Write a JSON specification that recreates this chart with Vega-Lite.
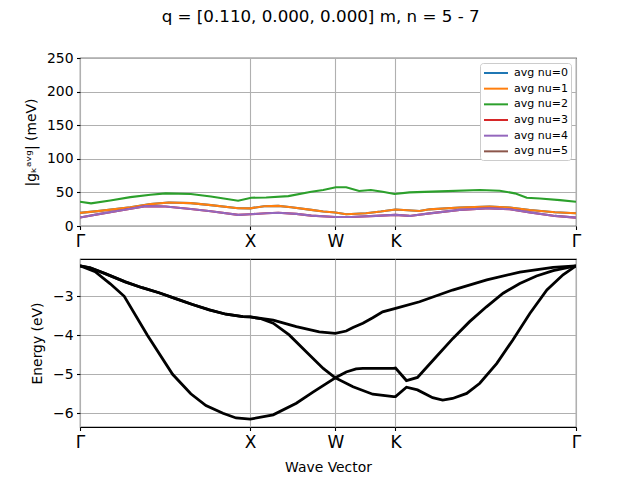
{
  "$schema": "https://vega.github.io/schema/vega-lite/v6.json",
  "title": {"text": "q = [0.110, 0.000, 0.000] m, n = 5 - 7", "fontSize": 16.7, "fontWeight": "normal", "font": "DejaVu Sans", "color": "black", "anchor": "middle", "offset": 25, "dx": 18},
  "padding": {"left": 23, "top": 8, "right": 10, "bottom": 5},
  "spacing": 8,
  "datasets": {
    "g": [
      {"s": "avg nu=0", "k": 0, "g": 19.5}, {"s": "avg nu=0", "k": 0.118, "g": 22.5}, {"s": "avg nu=0", "k": 0.296, "g": 28}, {"s": "avg nu=0", "k": 0.414, "g": 32.5}, {"s": "avg nu=0", "k": 0.521, "g": 35}, {"s": "avg nu=0", "k": 0.651, "g": 34}, {"s": "avg nu=0", "k": 0.769, "g": 31}, {"s": "avg nu=0", "k": 0.929, "g": 26.5}, {"s": "avg nu=0", "k": 1.0, "g": 26.3}, {"s": "avg nu=0", "k": 1.082, "g": 29.5}, {"s": "avg nu=0", "k": 1.165, "g": 30}, {"s": "avg nu=0", "k": 1.241, "g": 28}, {"s": "avg nu=0", "k": 1.359, "g": 24}, {"s": "avg nu=0", "k": 1.429, "g": 21.5}, {"s": "avg nu=0", "k": 1.5, "g": 20}, {"s": "avg nu=0", "k": 1.564, "g": 17.5}, {"s": "avg nu=0", "k": 1.68, "g": 19}, {"s": "avg nu=0", "k": 1.767, "g": 21.5}, {"s": "avg nu=0", "k": 1.854, "g": 24.5}, {"s": "avg nu=0", "k": 1.995, "g": 22.3}, {"s": "avg nu=0", "k": 2.054, "g": 24.8}, {"s": "avg nu=0", "k": 2.231, "g": 27.5}, {"s": "avg nu=0", "k": 2.407, "g": 29}, {"s": "avg nu=0", "k": 2.525, "g": 27.5}, {"s": "avg nu=0", "k": 2.643, "g": 23.8}, {"s": "avg nu=0", "k": 2.79, "g": 20.5}, {"s": "avg nu=0", "k": 2.9142, "g": 19},
      {"s": "avg nu=1", "k": 0, "g": 19.5}, {"s": "avg nu=1", "k": 0.118, "g": 22.5}, {"s": "avg nu=1", "k": 0.296, "g": 28}, {"s": "avg nu=1", "k": 0.414, "g": 32.5}, {"s": "avg nu=1", "k": 0.521, "g": 35}, {"s": "avg nu=1", "k": 0.651, "g": 34}, {"s": "avg nu=1", "k": 0.769, "g": 31}, {"s": "avg nu=1", "k": 0.929, "g": 26.5}, {"s": "avg nu=1", "k": 1.0, "g": 26.3}, {"s": "avg nu=1", "k": 1.082, "g": 29.5}, {"s": "avg nu=1", "k": 1.165, "g": 30}, {"s": "avg nu=1", "k": 1.241, "g": 28}, {"s": "avg nu=1", "k": 1.359, "g": 24}, {"s": "avg nu=1", "k": 1.429, "g": 21.5}, {"s": "avg nu=1", "k": 1.5, "g": 20}, {"s": "avg nu=1", "k": 1.564, "g": 17.5}, {"s": "avg nu=1", "k": 1.68, "g": 19}, {"s": "avg nu=1", "k": 1.767, "g": 21.5}, {"s": "avg nu=1", "k": 1.854, "g": 24.5}, {"s": "avg nu=1", "k": 1.995, "g": 22.3}, {"s": "avg nu=1", "k": 2.054, "g": 24.8}, {"s": "avg nu=1", "k": 2.231, "g": 27.5}, {"s": "avg nu=1", "k": 2.407, "g": 29}, {"s": "avg nu=1", "k": 2.525, "g": 27.5}, {"s": "avg nu=1", "k": 2.643, "g": 23.8}, {"s": "avg nu=1", "k": 2.79, "g": 20.5}, {"s": "avg nu=1", "k": 2.9142, "g": 19},
      {"s": "avg nu=2", "k": 0, "g": 36.2}, {"s": "avg nu=2", "k": 0.065, "g": 33.7}, {"s": "avg nu=2", "k": 0.178, "g": 38}, {"s": "avg nu=2", "k": 0.296, "g": 43}, {"s": "avg nu=2", "k": 0.414, "g": 46.5}, {"s": "avg nu=2", "k": 0.503, "g": 48.5}, {"s": "avg nu=2", "k": 0.651, "g": 47.6}, {"s": "avg nu=2", "k": 0.769, "g": 44}, {"s": "avg nu=2", "k": 0.929, "g": 37.7}, {"s": "avg nu=2", "k": 1.006, "g": 42}, {"s": "avg nu=2", "k": 1.094, "g": 42.5}, {"s": "avg nu=2", "k": 1.224, "g": 44.5}, {"s": "avg nu=2", "k": 1.359, "g": 51}, {"s": "avg nu=2", "k": 1.429, "g": 53.5}, {"s": "avg nu=2", "k": 1.503, "g": 57.6}, {"s": "avg nu=2", "k": 1.564, "g": 57.6}, {"s": "avg nu=2", "k": 1.64, "g": 52}, {"s": "avg nu=2", "k": 1.709, "g": 53.6}, {"s": "avg nu=2", "k": 1.778, "g": 51}, {"s": "avg nu=2", "k": 1.848, "g": 47.6}, {"s": "avg nu=2", "k": 1.936, "g": 50}, {"s": "avg nu=2", "k": 2.113, "g": 51.5}, {"s": "avg nu=2", "k": 2.349, "g": 53.6}, {"s": "avg nu=2", "k": 2.466, "g": 52.5}, {"s": "avg nu=2", "k": 2.555, "g": 48.6}, {"s": "avg nu=2", "k": 2.625, "g": 42}, {"s": "avg nu=2", "k": 2.702, "g": 41}, {"s": "avg nu=2", "k": 2.82, "g": 38.5}, {"s": "avg nu=2", "k": 2.9142, "g": 36},
      {"s": "avg nu=3", "k": 0, "g": 12.7}, {"s": "avg nu=3", "k": 0.118, "g": 18}, {"s": "avg nu=3", "k": 0.237, "g": 23}, {"s": "avg nu=3", "k": 0.385, "g": 29.5}, {"s": "avg nu=3", "k": 0.503, "g": 29}, {"s": "avg nu=3", "k": 0.651, "g": 25.3}, {"s": "avg nu=3", "k": 0.769, "g": 22}, {"s": "avg nu=3", "k": 0.929, "g": 16.5}, {"s": "avg nu=3", "k": 1.0, "g": 17.5}, {"s": "avg nu=3", "k": 1.094, "g": 19}, {"s": "avg nu=3", "k": 1.165, "g": 19.8}, {"s": "avg nu=3", "k": 1.271, "g": 18}, {"s": "avg nu=3", "k": 1.359, "g": 15.5}, {"s": "avg nu=3", "k": 1.5, "g": 13.5}, {"s": "avg nu=3", "k": 1.593, "g": 13.5}, {"s": "avg nu=3", "k": 1.738, "g": 15}, {"s": "avg nu=3", "k": 1.854, "g": 16.5}, {"s": "avg nu=3", "k": 1.936, "g": 15}, {"s": "avg nu=3", "k": 2.054, "g": 18.8}, {"s": "avg nu=3", "k": 2.231, "g": 24}, {"s": "avg nu=3", "k": 2.407, "g": 26.3}, {"s": "avg nu=3", "k": 2.525, "g": 25}, {"s": "avg nu=3", "k": 2.643, "g": 20.3}, {"s": "avg nu=3", "k": 2.79, "g": 15}, {"s": "avg nu=3", "k": 2.9142, "g": 12.4},
      {"s": "avg nu=4", "k": 0, "g": 12.7}, {"s": "avg nu=4", "k": 0.118, "g": 18}, {"s": "avg nu=4", "k": 0.237, "g": 23}, {"s": "avg nu=4", "k": 0.385, "g": 29.5}, {"s": "avg nu=4", "k": 0.503, "g": 29}, {"s": "avg nu=4", "k": 0.651, "g": 25.3}, {"s": "avg nu=4", "k": 0.769, "g": 22}, {"s": "avg nu=4", "k": 0.929, "g": 16.5}, {"s": "avg nu=4", "k": 1.0, "g": 17.5}, {"s": "avg nu=4", "k": 1.094, "g": 19}, {"s": "avg nu=4", "k": 1.165, "g": 19.8}, {"s": "avg nu=4", "k": 1.271, "g": 18}, {"s": "avg nu=4", "k": 1.359, "g": 15.5}, {"s": "avg nu=4", "k": 1.5, "g": 13.5}, {"s": "avg nu=4", "k": 1.593, "g": 13.5}, {"s": "avg nu=4", "k": 1.738, "g": 15}, {"s": "avg nu=4", "k": 1.854, "g": 16.5}, {"s": "avg nu=4", "k": 1.936, "g": 15}, {"s": "avg nu=4", "k": 2.054, "g": 18.8}, {"s": "avg nu=4", "k": 2.231, "g": 24}, {"s": "avg nu=4", "k": 2.407, "g": 26.3}, {"s": "avg nu=4", "k": 2.525, "g": 25}, {"s": "avg nu=4", "k": 2.643, "g": 20.3}, {"s": "avg nu=4", "k": 2.79, "g": 15}, {"s": "avg nu=4", "k": 2.9142, "g": 12.4}
    ],
    "bands": [
      {"b": 1, "k": 0, "e": -2.22}, {"b": 1, "k": 0.089, "e": -2.37}, {"b": 1, "k": 0.178, "e": -2.68}, {"b": 1, "k": 0.26, "e": -3.0}, {"b": 1, "k": 0.396, "e": -4.0}, {"b": 1, "k": 0.544, "e": -5.0}, {"b": 1, "k": 0.651, "e": -5.5}, {"b": 1, "k": 0.74, "e": -5.8}, {"b": 1, "k": 0.84, "e": -6.0}, {"b": 1, "k": 0.917, "e": -6.12}, {"b": 1, "k": 1.0, "e": -6.15}, {"b": 1, "k": 1.135, "e": -6.04}, {"b": 1, "k": 1.271, "e": -5.74}, {"b": 1, "k": 1.371, "e": -5.45}, {"b": 1, "k": 1.5, "e": -5.09}, {"b": 1, "k": 1.604, "e": -5.32}, {"b": 1, "k": 1.72, "e": -5.51}, {"b": 1, "k": 1.842, "e": -5.57}, {"b": 1, "k": 1.854, "e": -5.57}, {"b": 1, "k": 1.918, "e": -5.33}, {"b": 1, "k": 1.983, "e": -5.4}, {"b": 1, "k": 2.072, "e": -5.6}, {"b": 1, "k": 2.131, "e": -5.66}, {"b": 1, "k": 2.189, "e": -5.62}, {"b": 1, "k": 2.272, "e": -5.49}, {"b": 1, "k": 2.349, "e": -5.23}, {"b": 1, "k": 2.449, "e": -4.72}, {"b": 1, "k": 2.543, "e": -4.12}, {"b": 1, "k": 2.643, "e": -3.44}, {"b": 1, "k": 2.743, "e": -2.84}, {"b": 1, "k": 2.838, "e": -2.45}, {"b": 1, "k": 2.9142, "e": -2.22},
      {"b": 2, "k": 0, "e": -2.22}, {"b": 2, "k": 0.06, "e": -2.27}, {"b": 2, "k": 0.148, "e": -2.42}, {"b": 2, "k": 0.266, "e": -2.63}, {"b": 2, "k": 0.365, "e": -2.78}, {"b": 2, "k": 0.464, "e": -2.91}, {"b": 2, "k": 0.562, "e": -3.06}, {"b": 2, "k": 0.661, "e": -3.21}, {"b": 2, "k": 0.76, "e": -3.35}, {"b": 2, "k": 0.858, "e": -3.46}, {"b": 2, "k": 0.957, "e": -3.52}, {"b": 2, "k": 1.0, "e": -3.53}, {"b": 2, "k": 1.06, "e": -3.57}, {"b": 2, "k": 1.135, "e": -3.69}, {"b": 2, "k": 1.229, "e": -3.99}, {"b": 2, "k": 1.329, "e": -4.42}, {"b": 2, "k": 1.429, "e": -4.85}, {"b": 2, "k": 1.5, "e": -5.09}, {"b": 2, "k": 1.564, "e": -4.94}, {"b": 2, "k": 1.622, "e": -4.86}, {"b": 2, "k": 1.662, "e": -4.85}, {"b": 2, "k": 1.842, "e": -4.85}, {"b": 2, "k": 1.854, "e": -4.84}, {"b": 2, "k": 1.918, "e": -5.16}, {"b": 2, "k": 1.983, "e": -5.08}, {"b": 2, "k": 2.093, "e": -4.55}, {"b": 2, "k": 2.191, "e": -4.08}, {"b": 2, "k": 2.289, "e": -3.65}, {"b": 2, "k": 2.388, "e": -3.27}, {"b": 2, "k": 2.486, "e": -2.92}, {"b": 2, "k": 2.584, "e": -2.67}, {"b": 2, "k": 2.682, "e": -2.48}, {"b": 2, "k": 2.78, "e": -2.34}, {"b": 2, "k": 2.9142, "e": -2.22},
      {"b": 3, "k": 0, "e": -2.22}, {"b": 3, "k": 0.06, "e": -2.27}, {"b": 3, "k": 0.148, "e": -2.42}, {"b": 3, "k": 0.266, "e": -2.63}, {"b": 3, "k": 0.365, "e": -2.78}, {"b": 3, "k": 0.464, "e": -2.91}, {"b": 3, "k": 0.562, "e": -3.06}, {"b": 3, "k": 0.661, "e": -3.21}, {"b": 3, "k": 0.76, "e": -3.35}, {"b": 3, "k": 0.858, "e": -3.46}, {"b": 3, "k": 0.957, "e": -3.52}, {"b": 3, "k": 1.0, "e": -3.53}, {"b": 3, "k": 1.135, "e": -3.61}, {"b": 3, "k": 1.271, "e": -3.78}, {"b": 3, "k": 1.406, "e": -3.91}, {"b": 3, "k": 1.5, "e": -3.95}, {"b": 3, "k": 1.564, "e": -3.89}, {"b": 3, "k": 1.604, "e": -3.8}, {"b": 3, "k": 1.662, "e": -3.69}, {"b": 3, "k": 1.72, "e": -3.55}, {"b": 3, "k": 1.778, "e": -3.4}, {"b": 3, "k": 1.854, "e": -3.31}, {"b": 3, "k": 1.995, "e": -3.14}, {"b": 3, "k": 2.189, "e": -2.84}, {"b": 3, "k": 2.39, "e": -2.58}, {"b": 3, "k": 2.584, "e": -2.38}, {"b": 3, "k": 2.779, "e": -2.26}, {"b": 3, "k": 2.9142, "e": -2.22}
    ]
  },
  "vconcat": [
    {
      "width": 496,
      "height": 168,
      "data": {"name": "g"},
      "mark": {"type": "line", "strokeWidth": 2.1, "clip": true},
      "encoding": {
        "x": {"field": "k", "type": "quantitative", "scale": {"domain": [0, 2.9142], "nice": false, "zero": false},
          "axis": {"title": null, "values": [0, 1, 1.5, 1.8536, 2.9142], "labelExpr": "datum.value < 0.5 ? 'Γ' : datum.value < 1.2 ? 'X' : datum.value < 1.7 ? 'W' : datum.value < 2.5 ? 'K' : 'Γ'", "labelFontSize": 17, "labelFlush": false, "labelOverlap": false, "grid": true}},
        "y": {"field": "g", "type": "quantitative", "scale": {"domain": [0, 250], "nice": false},
          "axis": {"title": "|gₖᵃᵛᵍ| (meV)", "values": [0, 50, 100, 150, 200, 250], "grid": true, "titlePadding": 8}},
        "color": {"field": "s", "type": "nominal",
          "scale": {"domain": ["avg nu=0", "avg nu=1", "avg nu=2", "avg nu=3", "avg nu=4", "avg nu=5"], "range": ["#1f77b4", "#ff7f0e", "#2ca02c", "#d62728", "#9467bd", "#8c564b"]},
          "legend": {"title": null, "orient": "top-right", "offset": 5, "padding": 3, "fillColor": "white", "strokeColor": "#cccccc", "cornerRadius": 3, "labelFontSize": 11, "labelFont": "DejaVu Sans", "labelColor": "black", "symbolType": "M-1,0H3", "symbolSize": 144, "symbolStrokeWidth": 2, "labelOffset": 17, "rowPadding": 3.67}}
      }
    },
    {
      "width": 496,
      "height": 168,
      "data": {"name": "bands"},
      "mark": {"type": "line", "strokeWidth": 2.8, "color": "black", "clip": true},
      "encoding": {
        "x": {"field": "k", "type": "quantitative", "scale": {"domain": [0, 2.9142], "nice": false, "zero": false},
          "axis": {"title": "Wave Vector", "titlePadding": 10, "values": [0, 1, 1.5, 1.8536, 2.9142], "labelExpr": "datum.value < 0.5 ? 'Γ' : datum.value < 1.2 ? 'X' : datum.value < 1.7 ? 'W' : datum.value < 2.5 ? 'K' : 'Γ'", "labelFontSize": 17, "labelFlush": false, "labelOverlap": false, "grid": true}},
        "y": {"field": "e", "type": "quantitative", "scale": {"domain": [-6.351, -2.044], "nice": false, "zero": false},
          "axis": {"title": "Energy (eV)", "values": [-6, -5, -4, -3], "format": "d", "grid": true, "titlePadding": 8}},
        "detail": {"field": "b", "type": "nominal"}
      }
    }
  ],
  "config": {
    "font": "DejaVu Sans",
    "background": "white",
    "view": {"stroke": "black", "strokeWidth": 1.1},
    "axis": {"domain": false, "tickColor": "black", "tickSize": 3.5, "tickWidth": 1.1, "labelColor": "black", "labelFont": "DejaVu Sans", "labelFontSize": 13.9, "labelPadding": 3.5, "titleFont": "DejaVu Sans", "titleFontSize": 13.9, "titleFontWeight": "normal", "titleColor": "black", "gridColor": "#b0b0b0", "gridWidth": 1.1, "gridOpacity": 1}
  }
}
